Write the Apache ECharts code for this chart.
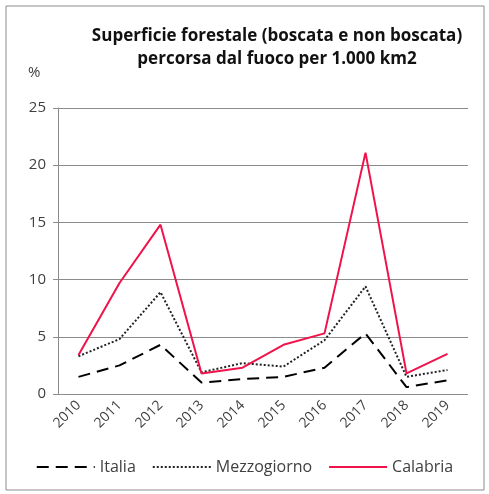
<!DOCTYPE html>
<html>
<head>
<meta charset="utf-8">
<script src="https://cdn.jsdelivr.net/npm/echarts@6/dist/echarts.min.js"></script>
<style>
  html, body { margin: 0; padding: 0; background: #fff; }
  #chart { width: 489px; height: 494px; }
</style>
</head>
<body>
<div id="chart"></div>
<script>
  // anni e valori
  var years = ['2010', '2011', '2012', '2013', '2014', '2015', '2016', '2017', '2018', '2019'];
  var italia = [1.5, 2.5, 4.3, 1.0, 1.3, 1.5, 2.3, 5.3, 0.6, 1.2];
  var mezzogiorno = [3.3, 4.8, 8.9, 1.9, 2.7, 2.4, 4.7, 9.4, 1.5, 2.1];
  var calabria = [3.4, 9.7, 14.8, 1.8, 2.3, 4.3, 5.3, 21.1, 1.8, 3.5];
  var yTicks = [0, 5, 10, 15, 20, 25];

  var myChart = echarts.init(document.getElementById('chart'));
  var textColor = '#404040';
  var fontFam = '"Open Sans", "DejaVu Sans", sans-serif';

  var option = {
    animation: false,
    backgroundColor: '#fff',
    title: {
      text: 'Superficie forestale (boscata e non boscata)\npercorsa dal fuoco per 1.000 km2',
      left: 272,
      top: 20,
      textAlign: 'center',
      textStyle: {
        fontFamily: fontFam,
        fontSize: 17,
        fontWeight: 'bold',
        color: '#111',
        lineHeight: 23
      }
    },
    graphic: [
      {
        type: 'rect',
        shape: { x: 6, y: 6, width: 478, height: 484 },
        style: { fill: 'none', stroke: '#8c8c8c', lineWidth: 1 },
        silent: true
      },
      {
        type: 'text',
        left: 28,
        top: 65,
        style: { text: '%', font: '15px ' + fontFam, fill: textColor }
      }
    ],
    legend: {
      bottom: 14,
      left: 'center',
      itemWidth: 58,
      itemHeight: 10,
      itemGap: 16,
      itemStyle: { opacity: 0 },
      textStyle: { fontFamily: fontFam, fontSize: 16, color: textColor },
      data: ['Italia', 'Mezzogiorno', 'Calabria']
    },
    grid: {
      left: 58,
      right: 21,
      top: 108,
      bottom: 100
    },
    xAxis: {
      type: 'category',
      data: years,
      boundaryGap: true,
      axisLine: { show: false },
      axisTick: { show: false },
      axisLabel: {
        rotate: 45,
        margin: 9,
        fontFamily: fontFam,
        fontSize: 14,
        color: textColor,
        interval: 0
      }
    },
    yAxis: {
      type: 'value',
      min: yTicks[0],
      max: yTicks[yTicks.length - 1],
      interval: 5,
      axisLine: { show: true, lineStyle: { color: '#8c8c8c', width: 1 } },
      axisTick: { show: true, length: 5, lineStyle: { color: '#8c8c8c' } },
      axisLabel: {
        margin: 12,
        fontFamily: fontFam,
        fontSize: 15,
        color: textColor
      },
      splitLine: { lineStyle: { color: '#8c8c8c', width: 1 } }
    },
    series: [
      {
        name: 'Italia',
        type: 'line',
        data: italia,
        symbol: 'none',
        color: '#000',
        lineStyle: { color: '#000', width: 2, type: [12, 7] }
      },
      {
        name: 'Mezzogiorno',
        type: 'line',
        data: mezzogiorno,
        symbol: 'none',
        color: '#000',
        lineStyle: { color: '#222', width: 2, type: [2, 2] }
      },
      {
        name: 'Calabria',
        type: 'line',
        data: calabria,
        symbol: 'none',
        color: '#f0124a',
        lineStyle: { color: '#f0124a', width: 2 }
      }
    ]
  };

  myChart.setOption(option);
</script>
</body>
</html>
